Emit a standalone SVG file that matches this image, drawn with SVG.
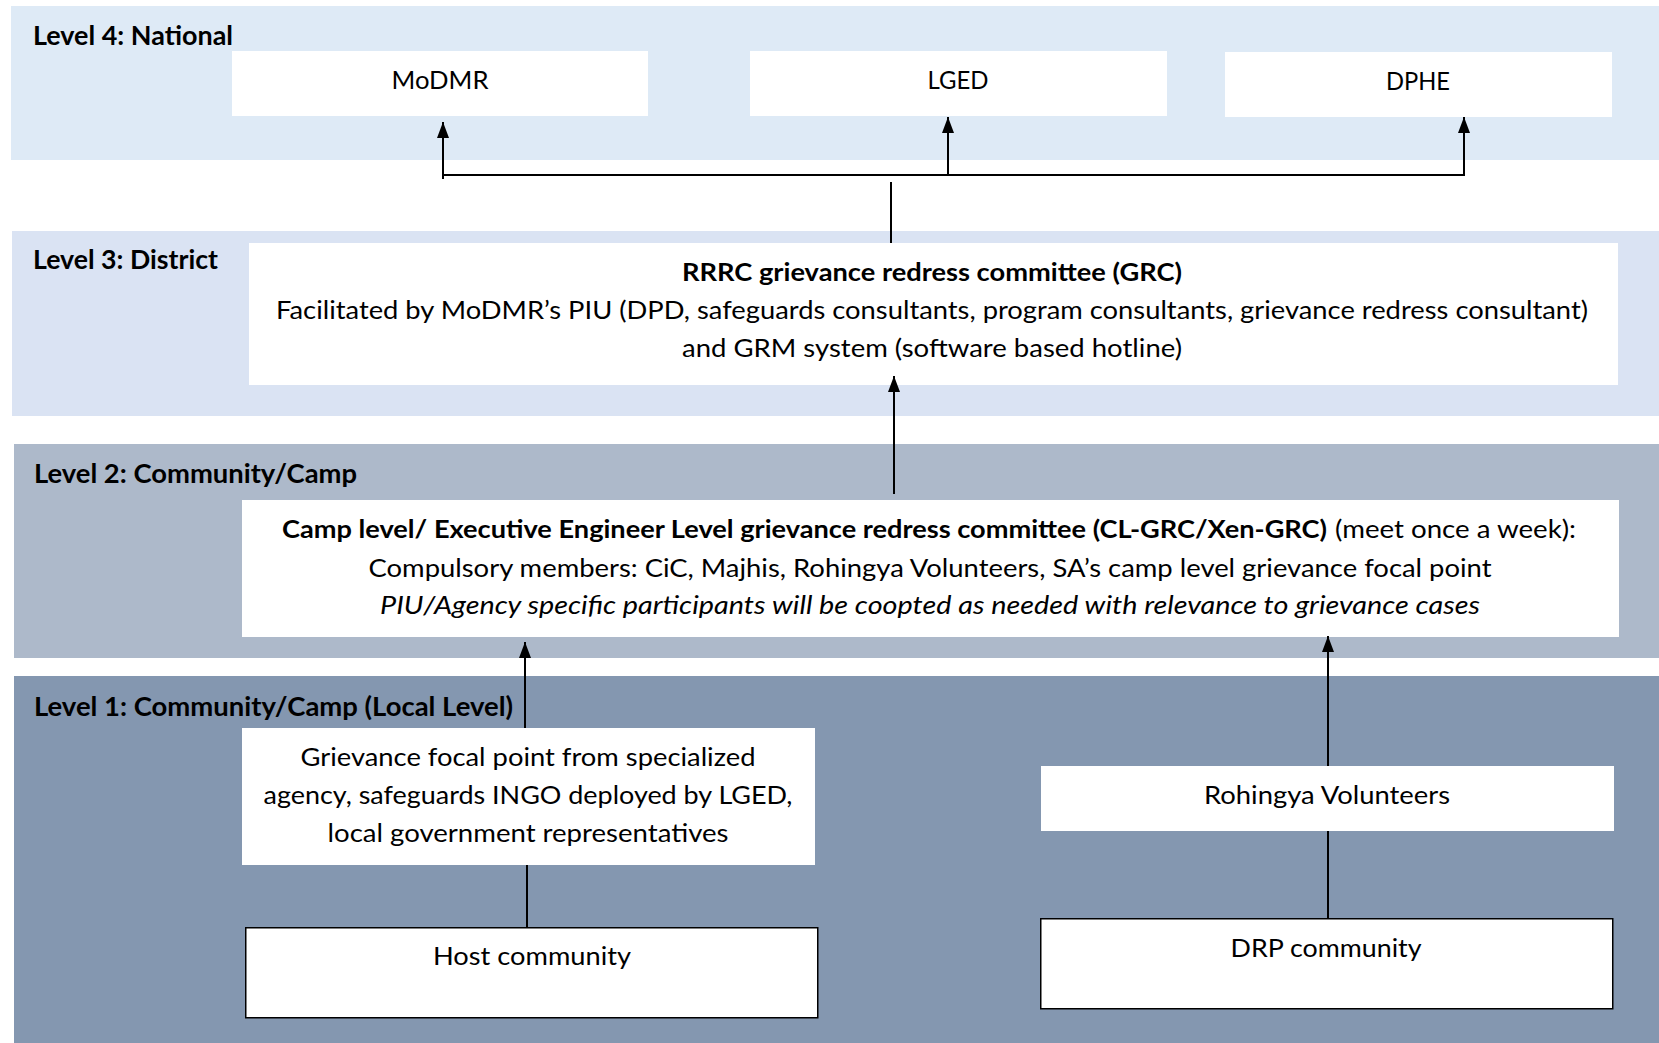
<svg xmlns="http://www.w3.org/2000/svg" width="1659" height="1043" viewBox="0 0 1659 1043">
<style>
.t{font-family:Lato,"Open Sans","Liberation Sans",sans-serif;font-size:25.5px;fill:#000}
.b{font-weight:bold}
.lvl{font-family:Lato,"Open Sans","Liberation Sans",sans-serif;font-size:26px;font-weight:bold;fill:#000}
.i{font-style:italic}
.box{fill:#fff}
.obox{fill:#fff;stroke:#000;stroke-width:1.5}
.c{fill:none;stroke:#000;stroke-width:2}
</style>
<defs>
<marker id="ah" viewBox="0 0 16 12" refX="16" refY="6" markerWidth="16" markerHeight="12" markerUnits="userSpaceOnUse" orient="auto">
<path d="M0,0 L16,6 L0,12 z" fill="#000"/>
</marker>
</defs>
<rect width="1659" height="1043" fill="#fff"/>
<g id="bands">
<rect x="11" y="6" width="1648" height="154" fill="#DEEAF6"/>
<rect x="12" y="231" width="1647" height="185" fill="#DAE3F3"/>
<rect x="14" y="444" width="1645" height="214" fill="#ADB9CA"/>
<rect x="14" y="676" width="1645" height="367" fill="#8497B0"/>
<text class="lvl" x="33" y="45" textLength="200" lengthAdjust="spacingAndGlyphs">Level 4: National</text>
<text class="lvl" x="33" y="269" textLength="185" lengthAdjust="spacingAndGlyphs">Level 3: District</text>
<text class="lvl" x="34" y="483" textLength="323" lengthAdjust="spacingAndGlyphs">Level 2: Community/Camp</text>
<text class="lvl" x="34" y="716" textLength="479" lengthAdjust="spacingAndGlyphs">Level 1: Community/Camp (Local Level)</text>
</g>
<g id="modmr">
<rect class="box" x="232" y="51" width="416" height="65"/>
<text class="t" x="440" y="89" text-anchor="middle" textLength="97" lengthAdjust="spacingAndGlyphs">MoDMR</text>
</g>
<g id="lged">
<rect class="box" x="750" y="51" width="417" height="65"/>
<text class="t" x="958" y="89" text-anchor="middle" textLength="61" lengthAdjust="spacingAndGlyphs">LGED</text>
</g>
<g id="dphe">
<rect class="box" x="1225" y="52" width="387" height="65"/>
<text class="t" x="1418" y="90" text-anchor="middle" textLength="64" lengthAdjust="spacingAndGlyphs">DPHE</text>
</g>
<g id="rrrc">
<rect class="box" x="249" y="243" width="1369" height="142"/>
<text class="t b" x="932" y="281" text-anchor="middle" textLength="500" lengthAdjust="spacingAndGlyphs">RRRC grievance redress committee (GRC)</text>
<text class="t" x="932" y="319" text-anchor="middle" textLength="1312" lengthAdjust="spacingAndGlyphs">Facilitated by MoDMR’s PIU (DPD, safeguards consultants, program consultants, grievance redress consultant)</text>
<text class="t" x="932" y="357" text-anchor="middle" textLength="500" lengthAdjust="spacingAndGlyphs">and GRM system (software based hotline)</text>
</g>
<g id="clgrc">
<rect class="box" x="242" y="500" width="1377" height="137"/>
<text class="t b" x="282" y="538" textLength="1045" lengthAdjust="spacingAndGlyphs">Camp level/ Executive Engineer Level grievance redress committee (CL-GRC/Xen-GRC)</text>
<text class="t" x="1335" y="538" textLength="241" lengthAdjust="spacingAndGlyphs">(meet once a week):</text>
<text class="t" x="930" y="577" text-anchor="middle" textLength="1123" lengthAdjust="spacingAndGlyphs">Compulsory members: CiC, Majhis, Rohingya Volunteers, SA’s camp level grievance focal point</text>
<text class="t i" x="930" y="614" text-anchor="middle" textLength="1100" lengthAdjust="spacingAndGlyphs">PIU/Agency specific participants will be coopted as needed with relevance to grievance cases</text>
</g>
<g id="focal">
<rect class="box" x="242" y="728" width="573" height="137"/>
<text class="t" x="528" y="766" text-anchor="middle" textLength="455" lengthAdjust="spacingAndGlyphs">Grievance focal point from specialized</text>
<text class="t" x="528" y="804" text-anchor="middle" textLength="529" lengthAdjust="spacingAndGlyphs">agency, safeguards INGO deployed by LGED,</text>
<text class="t" x="528" y="842" text-anchor="middle" textLength="401" lengthAdjust="spacingAndGlyphs">local government representatives</text>
</g>
<g id="rohingya">
<rect class="box" x="1041" y="766" width="573" height="65"/>
<text class="t" x="1327" y="804" text-anchor="middle" textLength="246" lengthAdjust="spacingAndGlyphs">Rohingya Volunteers</text>
</g>
<g id="host">
<rect class="obox" x="245.75" y="927.75" width="572" height="90"/>
<text class="t" x="532" y="965" text-anchor="middle" textLength="198" lengthAdjust="spacingAndGlyphs">Host community</text>
</g>
<g id="drp">
<rect class="obox" x="1040.75" y="918.75" width="572" height="90"/>
<text class="t" x="1326" y="957" text-anchor="middle" textLength="191" lengthAdjust="spacingAndGlyphs">DRP community</text>
</g>
<g id="connectors">
<path class="c" d="M442,175 H1465"/>
<path class="c" d="M443,179 V122" marker-end="url(#ah)"/>
<path class="c" d="M948,175 V117" marker-end="url(#ah)"/>
<path class="c" d="M1464,176 V117" marker-end="url(#ah)"/>
<path class="c" d="M891,182 V243"/>
<path class="c" d="M894,494 V376" marker-end="url(#ah)"/>
<path class="c" d="M525,728 V642" marker-end="url(#ah)"/>
<path class="c" d="M1328,766 V636" marker-end="url(#ah)"/>
<path class="c" d="M527,865 V927"/>
<path class="c" d="M1328,831 V918"/>
</g>
</svg>
